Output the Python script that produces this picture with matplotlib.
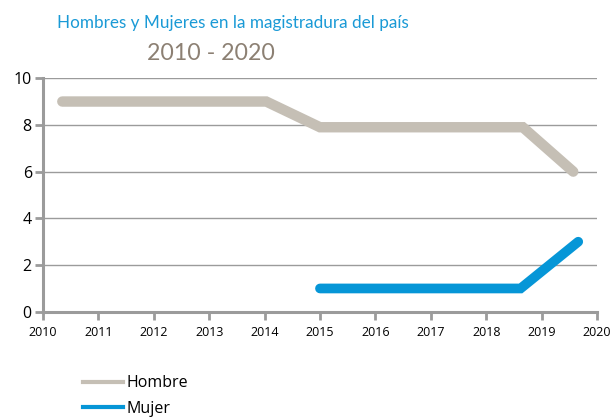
import matplotlib.pyplot as plt
from matplotlib.lines import Line2D

plt.rcParams['font.family'] = ['Open Sans', 'DejaVu Sans']

hombre_x = [2010.35, 2014.03, 2015.0, 2018.66, 2019.57]
hombre_y = [9, 9, 7.9, 7.9, 6]
mujer_x = [2015.0, 2018.62, 2019.66]
mujer_y = [1, 1, 3]

years = list(range(2010, 2021))
y_ticks = [0, 2, 4, 6, 8, 10]

gris = "#c5bfb5"
azul = "#0696d7"
eje = "#9b9b9b"

fig = plt.figure(figsize=(6.13, 4.18), dpi=100)
ax = fig.add_axes([0.070, 0.254, 0.904, 0.559])

ax.plot(hombre_x, hombre_y, color=gris, lw=7.5, solid_capstyle='round', solid_joinstyle='miter', zorder=3)
ax.plot(mujer_x, mujer_y, color=azul, lw=7, solid_capstyle='round', solid_joinstyle='miter', zorder=3)

ax.set_xlim(2010, 2020)
ax.set_ylim(0, 10)
ax.set_xticks(years)
ax.set_yticks(y_ticks)
ax.tick_params(axis='x', labelsize=9, length=6, width=2, color=eje, pad=4)
ax.tick_params(axis='y', labelsize=11.5, length=6, width=2, color=eje, pad=2)
ax.grid(axis='y', color=eje, lw=1)
ax.set_axisbelow(True)
for s in ['top', 'right']:
    ax.spines[s].set_visible(False)
for s in ['left', 'bottom']:
    ax.spines[s].set_color(eje)
    ax.spines[s].set_linewidth(2.2)

fig.text(0.093, 0.945, "Hombres y Mujeres en la magistradura del país", color="#1a9ad6",
         fontsize=12.3, va='center', family=['Lato', 'DejaVu Sans'])
fig.text(0.24, 0.872, "2010 - 2020", color="#8c8073", fontsize=16.7, va='center',
         family=['Lato', 'DejaVu Sans'])

handles = [Line2D([], [], color=gris, lw=3), Line2D([], [], color=azul, lw=3)]
fig.legend(handles, ["Hombre", "Mujer"], loc='lower left', bbox_to_anchor=(0.112, -0.032),
           frameon=False, fontsize=11.5, handlelength=2.5, handletextpad=0.2, labelspacing=0.6)

fig.savefig("out.png", dpi=100)
